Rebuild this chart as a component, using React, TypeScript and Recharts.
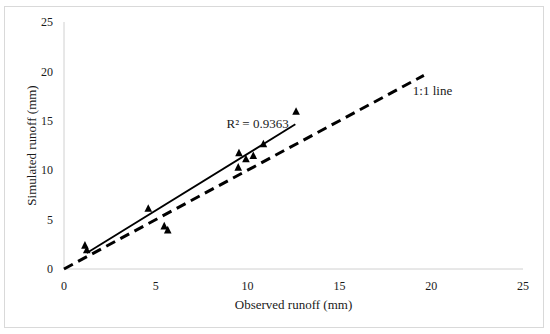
import { ScatterChart, Scatter, XAxis, YAxis, Label, ReferenceDot } from 'recharts';

// observed vs simulated runoff (mm)
const observed = [1.14, 1.24, 4.59, 5.46, 5.65, 9.53, 9.49, 9.91, 10.31, 10.86, 12.64];
const simulated = [2.36, 1.89, 6.09, 4.31, 3.91, 11.72, 10.26, 11.11, 11.44, 12.62, 15.91];

// linear trendline ends (as drawn) and the 1:1 reference line
const trendX = [1.24, 12.6];
const trendY = [1.62, 14.64];
const oneToOneX = [0, 19.6];
const oneToOneY = [0, 19.6];

const axisTicks = [0, 5, 10, 15, 20, 25];
const r2Label = 'R² = 0.9363';
const lineLabel = '1:1 line';

const points = observed.map((x, i) => ({ x, y: simulated[i] }));
const trend = trendX.map((x, i) => ({ x, y: trendY[i] }));
const oneToOne = oneToOneX.map((x, i) => ({ x, y: oneToOneY[i] }));

const font = '"Liberation Serif", "Times New Roman", serif';
const textColor = '#1a1a1a';
const axisColor = '#d0d0d0';

// small filled triangle like the Excel marker
const TriangleMarker = (props: any) => {
  const { cx, cy } = props;
  if (cx == null || cy == null) return <g />;
  const h = 3.8;
  return <path d={`M${cx},${cy - h * 1.2} L${cx + h},${cy + h * 0.8} L${cx - h},${cy + h * 0.8} Z`} fill="#000" />;
};

export default function App() {
  return (
    <div style={{ position: 'fixed', left: 0, top: 0, width: 550, height: 334, background: '#fff', fontFamily: font }}>
      <div
        style={{
          position: 'absolute',
          left: 4,
          top: 6,
          width: 538,
          height: 320,
          border: '1px solid #d9d9d9',
        }}
      />
      <ScatterChart width={550} height={334} margin={{ top: 22, right: 27, bottom: 35, left: 24 }}>
        <XAxis
          type="number"
          dataKey="x"
          domain={[0, 25]}
          ticks={axisTicks}
          interval={0}
          stroke={axisColor}
          tickLine={false}
          tickMargin={6}
          height={30}
          tick={{ fill: textColor, fontSize: 12, fontFamily: font }}
        >
          <Label
            value="Observed runoff (mm)"
            position="bottom"
            offset={1}
            style={{ fill: textColor, fontSize: 13, fontFamily: font }}
          />
        </XAxis>
        <YAxis
          type="number"
          dataKey="y"
          domain={[0, 25]}
          ticks={axisTicks}
          interval={0}
          stroke={axisColor}
          tickLine={false}
          tickMargin={5}
          width={40}
          tick={{ fill: textColor, fontSize: 12, fontFamily: font }}
        >
          <Label
            value="Simulated runoff (mm)"
            position="insideLeft"
            angle={-90}
            offset={7}
            style={{ fill: textColor, fontSize: 13, fontFamily: font, textAnchor: 'middle' }}
          />
        </YAxis>
        <Scatter
          data={oneToOne}
          line={{ stroke: '#000', strokeWidth: 3, strokeDasharray: '10 6' }}
          shape={() => <g />}
          isAnimationActive={false}
        />
        <Scatter
          data={trend}
          line={{ stroke: '#000', strokeWidth: 1.8 }}
          shape={() => <g />}
          isAnimationActive={false}
        />
        <Scatter data={points} shape={TriangleMarker} fill="#000" isAnimationActive={false} />
        <ReferenceDot
          x={8.85}
          y={14.75}
          r={0}
          stroke="none"
          label={{ value: r2Label, position: 'right', offset: 0, fill: textColor, fontSize: 13, fontFamily: font }}
        />
        <ReferenceDot
          x={19.0}
          y={18.1}
          r={0}
          stroke="none"
          label={{ value: lineLabel, position: 'right', offset: 0, fill: textColor, fontSize: 13, fontFamily: font }}
        />
      </ScatterChart>
    </div>
  );
}
